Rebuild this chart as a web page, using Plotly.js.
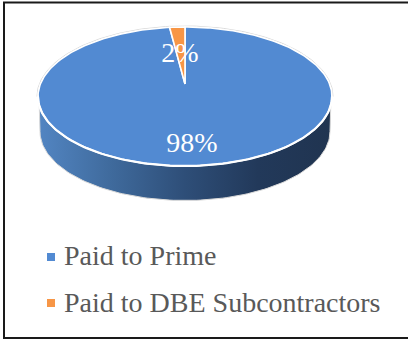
<!DOCTYPE html>
<html>
<head>
<meta charset="utf-8">
<script src="https://cdn.plot.ly/plotly-3.0.1.min.js"></script>
<style>html,body{margin:0;padding:0;background:#fff;overflow:hidden}#chart{width:408px;height:339px}</style>
</head>
<body>
<div id="chart"></div>
<script>
var categories = ["Paid to Prime", "Paid to DBE Subcontractors"];
var shares = [98, 2];
var sliceColors = ["#528AD2", "#F79646"];
var wallStops = ["#5285C2", "#3F6A9C", "#2E4E78", "#22395A", "#203450"];

// Tilted pie: projective view of a disc, so the centre sits above the ellipse middle.
var cx = 185, cy = 96.5, rx = 147, ry = 69.5, ecc = 0.18, depth = 35;
function rimPoint(share) {            // share measured clockwise from 12 o'clock, in percent
  var a = share / 100 * 2 * Math.PI, u = Math.sin(a), v = Math.cos(a);
  var d = 1 + ecc * v;
  return [cx + rx * u * Math.sqrt(1 - ecc * ecc) / d, cy - ry * (v + ecc) / d];
}
var apex = [cx, cy - ry * ecc];
function sliceOutline(from, to) {
  var xs = [apex[0]], ys = [apex[1]], n = Math.max(2, Math.ceil((to - from) * 3));
  for (var i = 0; i <= n; i++) {
    var p = rimPoint(from + (to - from) * i / n);
    xs.push(p[0]); ys.push(p[1]);
  }
  xs.push(apex[0]); ys.push(apex[1]);
  return {x: xs, y: ys};
}
function ellipseArc(rX, rY, yC, t0, t1, n) {
  var xs = [], ys = [];
  for (var i = 0; i <= n; i++) {
    var t = t0 + (t1 - t0) * i / n;
    xs.push(cx + rX * Math.cos(t)); ys.push(yC + rY * Math.sin(t));
  }
  return {x: xs, y: ys};
}

var traces = [];
var off = {hoverinfo: "skip", showlegend: false, type: "scatter", mode: "lines"};

// side wall
var front = ellipseArc(rx - 1, ry, cy, Math.PI, 0, 120);
var low = ellipseArc(rx - 2, ry - 0.5, cy + depth, 0, Math.PI, 120);
traces.push(Object.assign({}, off, {
  x: front.x.concat(low.x, [front.x[0]]),
  y: front.y.concat(low.y, [front.y[0]]),
  fill: "toself",
  fillgradient: {type: "horizontal", colorscale: wallStops.map(function (c, i) { return [i / (wallStops.length - 1), c]; })},
  line: {color: "#D9D9D9", width: 1}
}));

// outer pale halo round the top
var halo = ellipseArc(rx + 1, ry + 1, cy, Math.PI, 2 * Math.PI, 120);
traces.push(Object.assign({}, off, {x: halo.x, y: halo.y, line: {color: "#D9D9D9", width: 1}}));

// top slices, drawn from the shares
var start = 0;
shares.forEach(function (s, i) {
  var o = sliceOutline(start, start + s);
  traces.push(Object.assign({}, off, {
    name: categories[i], x: o.x, y: o.y, fill: "toself",
    fillcolor: sliceColors[i], line: {color: "#FFFFFF", width: 1.6}
  }));
  start += s;
});

// brighter front rim
var rim = ellipseArc(rx, ry, cy, Math.PI, 0, 120);
traces.push(Object.assign({}, off, {x: rim.x, y: rim.y, line: {color: "#FFFFFF", width: 2.2}}));

// data labels
var labelX = [192, 180], labelY = [144.5, 55];
traces.push({
  type: "scatter", mode: "text", hoverinfo: "skip", showlegend: false,
  x: labelX, y: labelY,
  text: shares.map(function (s) { return s + "%"; }),
  textposition: "middle center",
  textfont: {family: "Liberation Serif", size: 28, color: "#FFFFFF"}
});

// key
var keyX = 51, keyY = [257, 303];
categories.forEach(function (c, i) {
  traces.push({
    type: "scatter", mode: "markers", hoverinfo: "skip", showlegend: false,
    name: c, x: [keyX], y: [keyY[i]],
    marker: {symbol: "square", size: 8, color: sliceColors[i]}
  });
});
var keyTextX = 64, keyTextY = [258, 304.5];
traces.push({
  type: "scatter", mode: "text", hoverinfo: "skip", showlegend: false,
  x: [keyTextX, keyTextX], y: keyTextY, text: categories, textposition: "middle right",
  textfont: {family: "Liberation Serif", size: 28, color: "#595959"}
});

var layout = {
  width: 408, height: 339,
  margin: {l: 0, r: 0, t: 0, b: 0},
  paper_bgcolor: "#FFFFFF", plot_bgcolor: "#FFFFFF",
  showlegend: false, hovermode: false,
  xaxis: {range: [0, 408], visible: false, fixedrange: true},
  yaxis: {range: [339, 0], visible: false, fixedrange: true},
  shapes: [{type: "path", xref: "x", yref: "y", path: "M 408 2.5 L 4 2.5 L 4 338 L 408 338",
            line: {color: "#1A1A1A", width: 2}, layer: "above"}]
};
Plotly.newPlot("chart", traces, layout, {displayModeBar: false, staticPlot: true});
</script>
</body>
</html>
